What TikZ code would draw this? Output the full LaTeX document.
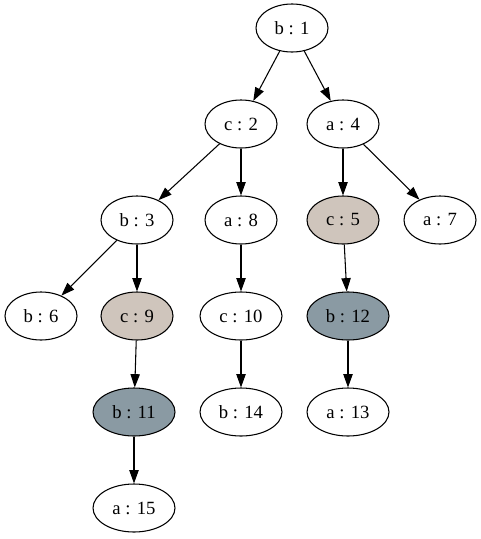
\documentclass[tikz,border=0pt]{standalone}
\usepackage{fontspec}
\setmainfont{Liberation Serif}
\usetikzlibrary{shapes.geometric,arrows.meta}
\definecolor{beigefill}{HTML}{CFC5BC}
\definecolor{slatefill}{HTML}{8A9AA3}
\tikzset{
  tnode/.style={draw=black, line width=0.8pt, ellipse, minimum width=54pt, minimum height=36pt, inner sep=0pt, font=\fontsize{14}{16}\selectfont},
  wide/.style={minimum width=61.5pt},
  beige/.style={fill=beigefill},
  slate/.style={fill=slatefill},
  edge/.style={draw=black, line width=0.8pt, -{Triangle[length=10pt,width=7pt]}}
}
\begin{document}
\begin{tikzpicture}[x=0.75pt,y=-0.75pt]
\useasboundingbox (0,0) rectangle (480,539);
\node[tnode] (b1) at (292,28) {b : 1};
\node[tnode] (c2) at (241,124) {c : 2};
\node[tnode] (a4) at (343,124) {a : 4};
\node[tnode] (b3) at (137,220) {b : 3};
\node[tnode] (a8) at (241,220) {a : 8};
\node[tnode,beige] (c5) at (343,220) {c : 5};
\node[tnode] (a7) at (440,220) {a : 7};
\node[tnode] (b6) at (41,316) {b : 6};
\node[tnode,beige] (c9) at (137,316) {c : 9};
\node[tnode,wide] (c10) at (241,316) {c : 10};
\node[tnode,wide,slate] (b12) at (348,316) {b : 12};
\node[tnode,wide,slate] (b11) at (134,412) {b : 11};
\node[tnode,wide] (b14) at (241,412) {b : 14};
\node[tnode,wide] (a13) at (348,412) {a : 13};
\node[tnode,wide] (a15) at (134,508) {a : 15};
\draw[edge] (b1) -- (c2);
\draw[edge] (b1) -- (a4);
\draw[edge] (c2) -- (b3);
\draw[edge] (c2) -- (a8);
\draw[edge] (a4) -- (c5);
\draw[edge] (a4) -- (a7);
\draw[edge] (b3) -- (b6);
\draw[edge] (b3) -- (c9);
\draw[edge] (a8) -- (c10);
\draw[edge] (c5) -- (b12);
\draw[edge] (c9) -- (b11);
\draw[edge] (c10) -- (b14);
\draw[edge] (b12) -- (a13);
\draw[edge] (b11) -- (a15);
\end{tikzpicture}
\end{document}
